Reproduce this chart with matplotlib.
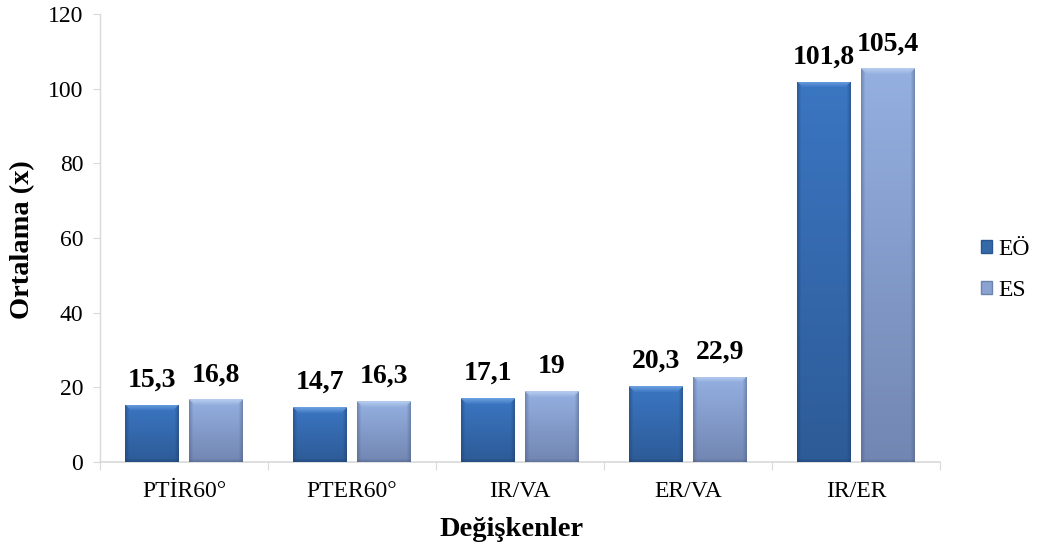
#!/usr/bin/env python
# -*- coding: utf-8 -*-
# Ortalama degerleri - EÖ / ES karsilastirmasi (bar chart)

import numpy as np
import matplotlib
matplotlib.use('Agg')
from matplotlib import pyplot as plt
from matplotlib.patches import Patch

#-----------------------------------------------------------------------------------------
#                                        DATA
#-----------------------------------------------------------------------------------------
categories = ['PTİR60°', 'PTER60°', 'IR/VA', 'ER/VA', 'IR/ER']
eo_values = [15.3, 14.7, 17.1, 20.3, 101.8]
es_values = [16.8, 16.3, 19.0, 22.9, 105.4]
eo_labels = ['15,3', '14,7', '17,1', '20,3', '101,8']
es_labels = ['16,8', '16,3', '19', '22,9', '105,4']
series_names = ['EÖ', 'ES']
y_ticks = [0, 20, 40, 60, 80, 100, 120]


#-----------------------------------------------------------------------------------------
#                                  FUNCTION DEFINITION
#-----------------------------------------------------------------------------------------
def hex2rgb(h):
    h = h.lstrip('#')
    return np.array([int(h[i:i+2], 16) for i in (0, 2, 4)]) / 255.0


def shade_bar(ax, bar, top, bottom, bevel, edge):
    """ paint a bevel-like gradient inside one bar """
    x0, y0 = bar.get_x(), bar.get_y()
    w, h = bar.get_width(), bar.get_height()
    # size of the bar in pixels
    p0 = ax.transData.transform((x0, y0))
    p1 = ax.transData.transform((x0 + w, y0 + h))
    nx = max(int(round(p1[0] - p0[0])), 2)
    ny = max(int(round(p1[1] - p0[1])), 2)

    t = np.linspace(0, 1, ny)[:, None, None]  # 0 at top
    img = (1 - t) * top + t * bottom
    img = np.repeat(img, nx, axis=1)

    # darker sides
    b = 4
    for i in range(b):
        f = 0.55 + 0.45 * i / b
        img[:, i] = img[:, i] * f + edge * (1 - f)
        img[:, nx - 1 - i] = img[:, nx - 1 - i] * f + edge * (1 - f)
    # light top bevel
    tb = 6
    for j in range(min(tb, ny)):
        f = 0.3 + 0.7 * j / tb
        lo = min(j, nx // 2)
        hi = nx - lo
        img[j, lo:hi] = img[j, lo:hi] * f + bevel * (1 - f)
    # darker bottom line
    for j in range(min(3, ny)):
        f = 0.6 + 0.4 * j / 3
        img[ny - 1 - j] = img[ny - 1 - j] * f + edge * (1 - f)

    im = ax.imshow(img, extent=(x0, x0 + w, y0, y0 + h), origin='upper',
                   aspect='auto', interpolation='bilinear', zorder=3)
    im.set_clip_path(bar)


#-----------------------------------------------------------------------------------------
#                                     MAIN FUNCTION
#-----------------------------------------------------------------------------------------
def main():
    plt.rcParams['font.family'] = ['Liberation Serif', 'DejaVu Serif']

    fig = plt.figure(figsize=(10.42, 5.54), dpi=100)
    ax = fig.add_axes([0.096, 0.166, 0.806, 0.809])

    x = np.arange(len(categories))
    width = 0.32
    off = 0.19

    colors = {'EÖ': dict(top=hex2rgb('#3b76c2'), bottom=hex2rgb('#2d5b97'),
                         bevel=hex2rgb('#7fb2ee'), edge=hex2rgb('#1d3c66')),
              'ES': dict(top=hex2rgb('#94b0e1'), bottom=hex2rgb('#7286b2'),
                         bevel=hex2rgb('#c4d8f5'), edge=hex2rgb('#4c5c80'))}

    ax.set_xlim(-0.5, len(categories) - 0.5)
    ax.set_ylim(0, 120)

    bars_eo = ax.bar(x - off, eo_values, width, color='#3569a8', zorder=2)
    bars_es = ax.bar(x + off, es_values, width, color='#8299c8', zorder=2)

    for b in bars_eo:
        shade_bar(ax, b, **colors['EÖ'])
    for b in bars_es:
        shade_bar(ax, b, **colors['ES'])
    ax.set_xlim(-0.5, len(categories) - 0.5)
    ax.set_ylim(0, 120)

    # value labels
    for i in range(len(categories)):
        ax.annotate(eo_labels[i], (x[i] - off, eo_values[i]), xytext=(0, 13),
                    textcoords='offset points', ha='center', va='baseline',
                    fontsize=20, fontweight='bold', zorder=5)
        ax.annotate(es_labels[i], (x[i] + off, es_values[i]), xytext=(0, 13),
                    textcoords='offset points', ha='center', va='baseline',
                    fontsize=20, fontweight='bold', zorder=5)

    # axes
    for s in ['top', 'right']:
        ax.spines[s].set_visible(False)
    ax.spines['left'].set_color('#d9d9d9')
    ax.spines['bottom'].set_color('#d9d9d9')
    ax.spines['left'].set_linewidth(1.0)
    ax.spines['bottom'].set_linewidth(1.2)

    ax.set_yticks(y_ticks)
    ax.set_yticklabels([str(v) for v in y_ticks], fontsize=17)
    ax.tick_params(axis='y', length=5, color='#d9d9d9', pad=7)

    ax.set_xticks(np.arange(len(categories) + 1) - 0.5)
    ax.set_xticklabels([])
    ax.set_xticks(x, minor=True)
    ax.set_xticklabels(categories, minor=True, fontsize=17)
    ax.tick_params(axis='x', which='major', length=6, color='#d9d9d9')
    ax.tick_params(axis='x', which='minor', length=0, pad=14)

    fig.text(512 / 1042, 1 - 530 / 554, 'Değişkenler', fontsize=20.5, fontweight='bold',
             ha='center', va='center')
    fig.text(23 / 1042, 1 - 240 / 554, 'Ortalama (x)', fontsize=20.5, fontweight='bold',
             ha='center', va='center', rotation=90)

    handles = [Patch(facecolor='#3569a8', edgecolor='#2a5590'),
               Patch(facecolor='#8aa3d2', edgecolor='#6f84ad')]
    fig.legend(handles, series_names, loc='center left', bbox_to_anchor=(0.932, 0.513),
               frameon=False, fontsize=17, handlelength=0.5, handleheight=0.5,
               handletextpad=0.25, labelspacing=0.85, borderaxespad=0)

    fig.savefig('out.png', dpi=100)


if __name__ == '__main__':
    main()
